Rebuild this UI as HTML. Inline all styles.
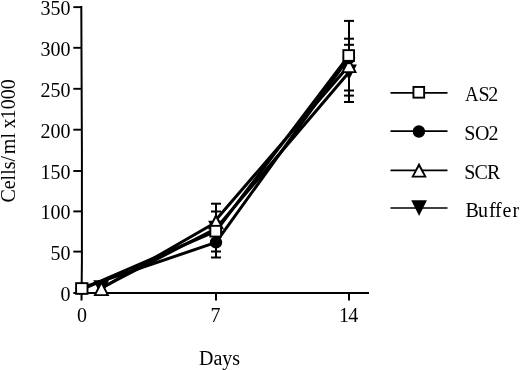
<!DOCTYPE html>
<html><head><meta charset="utf-8">
<style>
html,body{margin:0;padding:0;background:#fff;width:520px;height:370px;overflow:hidden;}
svg{display:block;filter:grayscale(1);}
text{font-family:"Liberation Serif",serif;font-size:20px;fill:#000;font-variant-ligatures:none;font-kerning:none;}
</style></head>
<body>
<svg width="520" height="370" viewBox="0 0 520 370">
<rect width="520" height="370" fill="#fff"/>
<g stroke="#000" stroke-width="2" fill="none">
<polyline points="81.3,6.1 81.9,150 81.9,262 81.5,300.6"/>
<line x1="80" y1="293" x2="369" y2="293"/>
<line x1="73.3" y1="7.15" x2="82" y2="7.15" stroke-width="1.9"/>
<line x1="73.3" y1="47.8" x2="82" y2="47.8" stroke-width="1.9"/>
<line x1="73.3" y1="88.8" x2="82" y2="88.8" stroke-width="1.9"/>
<line x1="73.3" y1="129.7" x2="82" y2="129.7" stroke-width="1.9"/>
<line x1="73.3" y1="171.0" x2="82" y2="171.0" stroke-width="1.9"/>
<line x1="73.3" y1="211.4" x2="82" y2="211.4" stroke-width="1.9"/>
<line x1="73.3" y1="251.6" x2="82" y2="251.6" stroke-width="1.9"/>
<line x1="73.3" y1="293" x2="82" y2="293" stroke-width="1.9"/>
<line x1="216" y1="292" x2="216" y2="300.5"/>
<line x1="349" y1="292" x2="349" y2="300.5"/>
</g>
<g text-anchor="end">
<text x="70.5" y="15.1">350</text>
<text x="70.5" y="55.7">300</text>
<text x="70.5" y="96.7">250</text>
<text x="70.5" y="137.6">200</text>
<text x="70.5" y="178.9">150</text>
<text x="70.5" y="219.3">100</text>
<text x="70.5" y="259.5">50</text>
<text x="70.5" y="300.9">0</text>
</g>
<g text-anchor="middle"><text x="82.1" y="322">0</text><text x="215.6" y="322">7</text></g>
<text x="339 348.3" y="321.8">14</text>
<text x="219.5" y="365" text-anchor="middle">Days</text>
<text transform="translate(15,202.6) rotate(-90)">Cells/<tspan dx="1.8">ml</tspan><tspan dx="-0.6"> x</tspan><tspan dx="-0.7">1000</tspan></text>
<g stroke="#000" stroke-width="3.0" fill="none" stroke-linejoin="round">
<polyline points="81.5,289.5 216,231 349,55.5"/>
<polyline points="101.2,288.5 216,222.3 216,219.8 349,65.5"/>
<polyline points="81.5,288 216,242.4 349,57.5"/>
<polyline points="101.2,288 216,228.5 349,72.2"/>
</g>
<g stroke="#000" stroke-width="2.0" fill="none">
<line x1="216" y1="203.7" x2="216" y2="257.5"/>
<line x1="211" y1="203.7" x2="221" y2="203.7"/>
<line x1="211" y1="211.5" x2="221" y2="211.5"/>
<line x1="211" y1="251.5" x2="221" y2="251.5"/>
<line x1="211" y1="257.5" x2="221" y2="257.5"/>
<line x1="349" y1="21" x2="349" y2="102"/>
<line x1="344" y1="20.9" x2="354" y2="20.9"/>
<line x1="344" y1="38.7" x2="354" y2="38.7"/>
<line x1="344" y1="44.8" x2="354" y2="44.8"/>
<line x1="344" y1="90.5" x2="354" y2="90.5"/>
<line x1="344" y1="95.6" x2="354" y2="95.6"/>
<line x1="344" y1="102" x2="354" y2="102"/>
</g>
<path d="M93.30,280.20 L109.10,280.20 L101.20,295.80 Z" fill="#000"/>
<path d="M208.10,220.70 L223.90,220.70 L216.00,236.30 Z" fill="#000"/>
<path d="M341.10,64.40 L356.90,64.40 L349.00,80.00 Z" fill="#000"/>
<path d="M101.40,280.00 L109.40,295.90 L93.40,295.90 Z" fill="#000"/><path d="M101.40,284.60 L106.40,294.30 L96.40,294.30 Z" fill="#fff"/>
<path d="M216.00,213.30 L224.00,229.20 L208.00,229.20 Z" fill="#000"/><path d="M216.00,217.90 L221.00,227.60 L211.00,227.60 Z" fill="#fff"/>
<path d="M349.00,57.00 L357.00,72.90 L341.00,72.90 Z" fill="#000"/><path d="M349.00,61.60 L354.00,71.30 L344.00,71.30 Z" fill="#fff"/>
<circle cx="81.8" cy="288.5" r="6.2" fill="#000"/>
<circle cx="216" cy="242.4" r="6.2" fill="#000"/>
<circle cx="349" cy="58.1" r="6.2" fill="#000"/>
<rect x="75.15" y="282.20" width="13.30" height="12.60" fill="#000"/><rect x="77.05" y="284.10" width="9.50" height="8.80" fill="#fff"/>
<rect x="209.40" y="224.90" width="12.60" height="12.60" fill="#000"/><rect x="211.30" y="226.80" width="8.80" height="8.80" fill="#fff"/>
<rect x="342.40" y="49.20" width="12.60" height="12.60" fill="#000"/><rect x="344.30" y="51.10" width="8.80" height="8.80" fill="#fff"/>
<g stroke="#000" stroke-width="1.7" fill="none">
<line x1="390.5" y1="92.8" x2="447.5" y2="92.8"/>
<line x1="390.5" y1="131.2" x2="447.5" y2="131.2"/>
<line x1="390.5" y1="170.4" x2="447.5" y2="170.4"/>
<line x1="390.5" y1="208" x2="447.5" y2="208"/>
</g>
<rect x="412.50" y="86.00" width="12.60" height="12.60" fill="#000"/><rect x="414.40" y="87.90" width="8.80" height="8.80" fill="#fff"/>
<circle cx="418.9" cy="131.5" r="6.2" fill="#000"/>
<path d="M419.00,162.40 L426.80,177.50 L411.20,177.50 Z" fill="#000"/><path d="M419.00,167.10 L423.85,175.80 L414.15,175.80 Z" fill="#fff"/>
<path d="M411.25,200.15 L426.95,200.15 L419.10,216.05 Z" fill="#000"/>
<text transform="translate(465.1,101.1) scale(0.94,1)">A</text>
<text x="478.46 488.22" y="101.1">S2</text>
<text x="464.26 475.08 488.62" y="139.8">SO2</text>
<text x="464.26 474.38 487.02" y="179.2">SCR</text>
<text x="465.62 477.94 488.88 494.98 502.42 512.45" y="216.5">Buffer</text>
</svg>
</body></html>
